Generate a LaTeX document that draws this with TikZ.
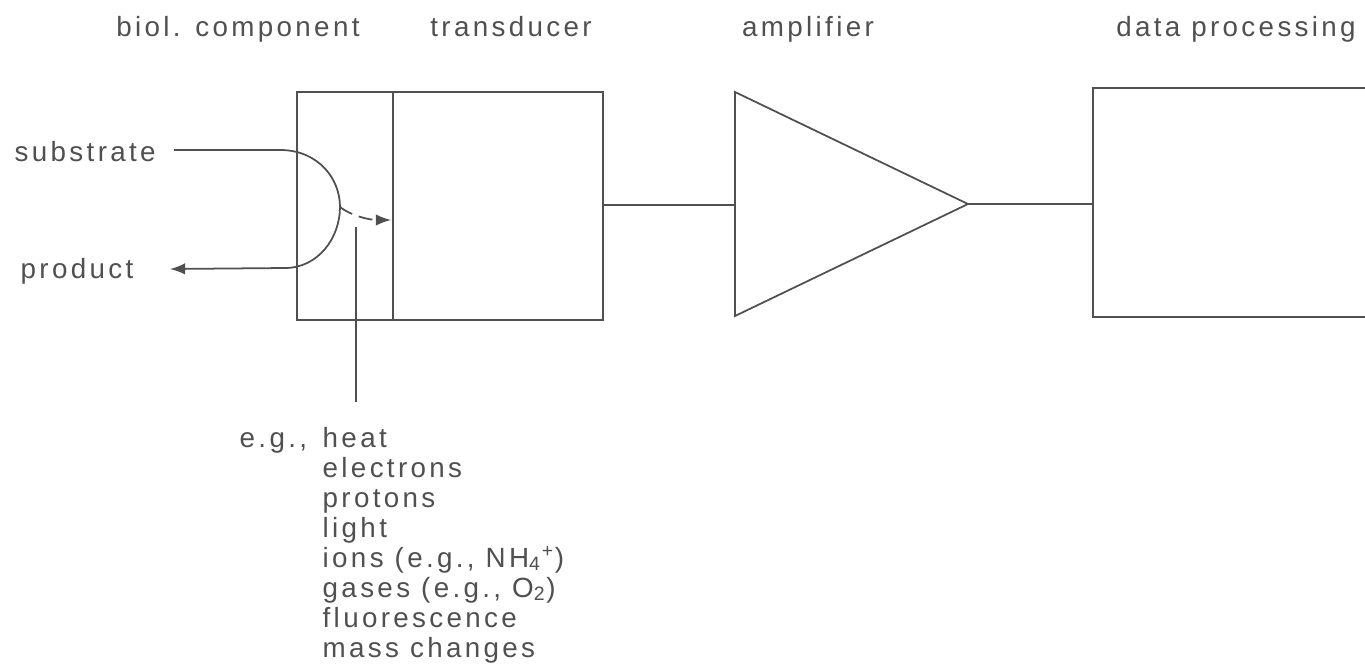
\documentclass[tikz,border=0pt]{standalone}
\usepackage{fontspec}
\setmainfont[LetterSpace=12]{Liberation Sans}
\usetikzlibrary{positioning}
\definecolor{ink}{HTML}{505050}
\tikzset{
	label text/.style={text=ink, inner sep=0pt, font=\fontsize{7.9pt}{9pt}\selectfont},
	box line/.style={draw=ink, line width=0.5pt},
}

\begin{document}
\begin{tikzpicture}[x=0.01cm, y=-0.01cm]
		\useasboundingbox (0,0) rectangle (1365,669);
		\clip (0,0) rectangle (1365,669);
		
		% blocks
		\coordinate (bioNW) at (297,92);
		\coordinate (bioSE) at (393,320);
		\coordinate (trSE) at (603,320);
		\draw[box line] (bioNW) rectangle (bioSE);
		\draw[box line] (bioSE |- bioNW) rectangle (trSE);
		\coordinate (trOut) at (603,205);
		
		\coordinate (ampTop) at (735,92);
		\coordinate (ampBot) at (735,316);
		\coordinate (ampTip) at (968,204);
		\coordinate (ampIn) at (735,205);
		\draw[box line] (ampTop) -- (ampTip) -- (ampBot) -- cycle;
		
		\coordinate (dataIn) at (1093,204);
		\draw[box line] (1380,88) -- (1093,88) -- (1093,317) -- (1380,317);
		
		\draw[box line] (trOut) -- (ampIn);
		\draw[box line] (ampTip) -- (dataIn);
		
		% titles
		\node[label text, anchor=base] (tBio) at (238,36) {biol. component};
		\node[label text, anchor=base] (tTr) at (511,36) {transducer};
		\node[label text, anchor=base] (tAmp) at (808,36) {amplifier};
		\node[label text, anchor=base] (tData) at (1236,36) {data processing};
		
		% substrate / product loop
		\node[label text, anchor=base west] (sub) at (14,161) {substrate};
		\node[label text, anchor=base west] (prod) at (20,278) {product};
		\coordinate (subIn) at (174,150);
		\coordinate (prodOut) at (170,269);
		\coordinate (apex) at (340,207);
		\draw[box line, -latex] (subIn) -- (282,150)
			.. controls (318,151) and (340,178) .. (apex)
			.. controls (340,238) and (318,268) .. (285,268) -- (prodOut);
		\draw[box line, dashed, dash pattern=on 4pt off 2pt, -latex] (apex)
			.. controls (350,215) and (368,220) .. (391,220);
		
		% pointer to the list
		\coordinate (ptrTop) at (356,227);
		\coordinate (ptrBot) at (356,402);
		\draw[draw=ink, line width=0.3pt] (ptrTop) -- (ptrBot);
		
		% signals
		\node[label text, anchor=base west] (eg) at (239,447) {e.g.,};
		\foreach \txt [count=\i from 0] in {heat, electrons, protons, light,
			{ions (e.g., NH\textsubscript{4}\textsuperscript{+})},
			{gases (e.g., O\textsubscript{2})}, fluorescence, mass changes}
			\node[label text, anchor=base west] (sig\i) at (322,447+30*\i) {\txt};
	\end{tikzpicture}
\end{document}
